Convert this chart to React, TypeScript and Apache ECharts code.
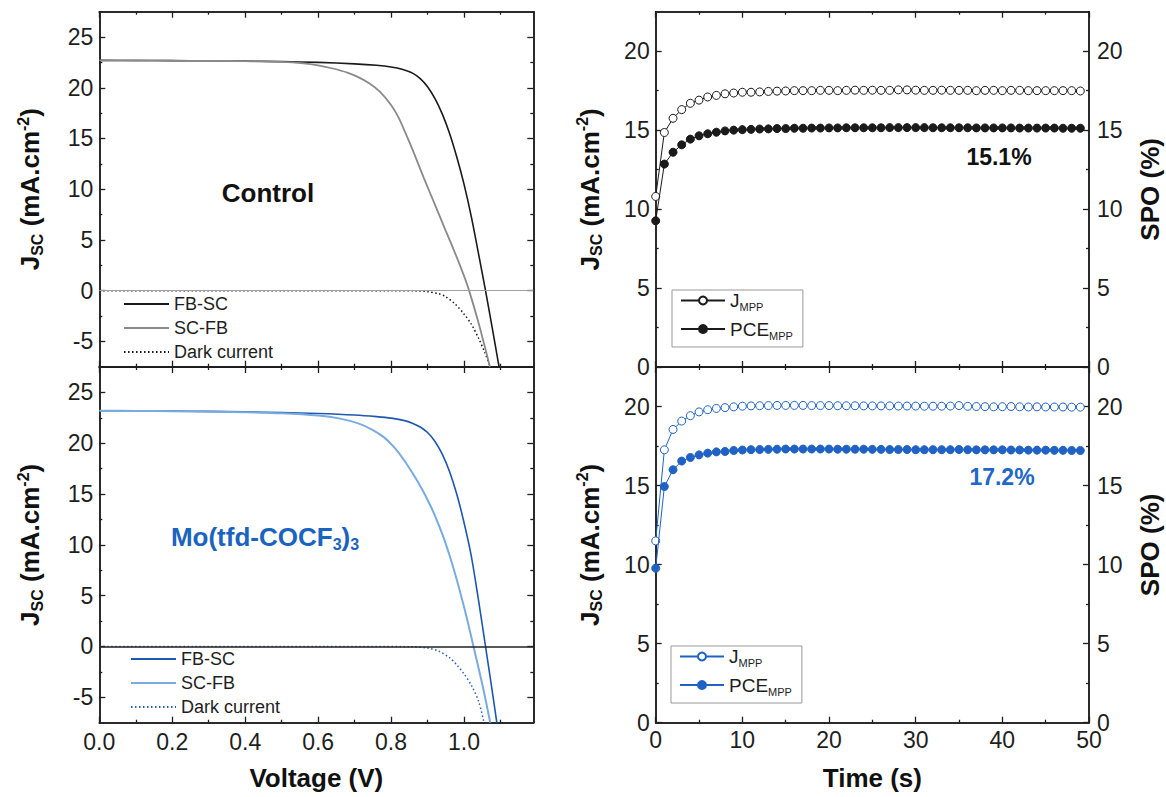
import React, { useEffect, useRef } from "react";
import * as echarts from "echarts";

const FONT = "'Liberation Sans', Arial, Helvetica, sans-serif";
const INK = "#1e1e1e";
const BLUE = "#1f62c4";

// ---------- J-V curves: [voltage (V), current density (mA/cm2)] ----------
const controlFbSc: [number, number][] = [
  [0, 22.7], [0.1, 22.69], [0.2, 22.68], [0.3, 22.66], [0.4, 22.63], [0.5, 22.58],
  [0.6, 22.5], [0.7, 22.36], [0.76, 22.22], [0.8, 22.05], [0.83, 21.82], [0.86, 21.42],
  [0.88, 20.9], [0.9, 20.1], [0.92, 18.95], [0.94, 17.45], [0.96, 15.55], [0.98, 13.2],
  [1.0, 10.5], [1.02, 7.3], [1.04, 3.6], [1.059, 0], [1.078, -3.8], [1.096, -7.5],
];
const controlScFb: [number, number][] = [
  [0, 22.7], [0.1, 22.69], [0.2, 22.67], [0.3, 22.65], [0.4, 22.62], [0.5, 22.55],
  [0.56, 22.4], [0.6, 22.2], [0.64, 21.9], [0.68, 21.5], [0.71, 21.05], [0.74, 20.45],
  [0.77, 19.6], [0.8, 18.3], [0.82, 17.1], [0.84, 15.5], [0.86, 13.8], [0.89, 11.1],
  [0.92, 8.5], [0.95, 5.9], [0.98, 3.3], [1.0, 1.45], [1.014, 0], [1.04, -3.2], [1.071, -7.5],
];
const controlDark: [number, number][] = [
  [0, 0], [0.3, 0], [0.6, 0], [0.8, 0], [0.87, -0.03], [0.9, -0.1], [0.93, -0.3],
  [0.95, -0.6], [0.975, -1.3], [1.0, -2.3], [1.02, -3.3], [1.04, -4.7], [1.057, -6.1],
  [1.072, -7.5],
];
const moFbSc: [number, number][] = [
  [0, 23.2], [0.1, 23.19], [0.2, 23.17], [0.3, 23.13], [0.4, 23.08], [0.5, 23.02],
  [0.6, 22.93], [0.7, 22.78], [0.76, 22.62], [0.8, 22.47], [0.84, 22.2], [0.86, 21.95],
  [0.88, 21.6], [0.9, 21.05], [0.92, 20.2], [0.94, 18.95], [0.96, 17.25], [0.98, 15.0],
  [1.0, 12.2], [1.02, 8.9], [1.04, 4.5], [1.059, 0], [1.075, -3.8], [1.09, -7.5],
];
const moScFb: [number, number][] = [
  [0, 23.2], [0.1, 23.18], [0.2, 23.15], [0.3, 23.1], [0.4, 23.05], [0.5, 22.95],
  [0.6, 22.72], [0.66, 22.42], [0.71, 21.95], [0.75, 21.3], [0.78, 20.6], [0.81, 19.55],
  [0.84, 18.1], [0.875, 16.1], [0.91, 13.7], [0.94, 11.1], [0.96, 9.0], [0.98, 6.6],
  [1.0, 3.9], [1.015, 1.7], [1.026, 0], [1.05, -3.7], [1.072, -7.5],
];
const moDark: [number, number][] = [
  [0, 0], [0.3, 0], [0.6, 0], [0.85, -0.02], [0.9, -0.15], [0.93, -0.45], [0.96, -1.1],
  [0.98, -1.8], [1.0, -2.7], [1.02, -3.8], [1.04, -5.4], [1.055, -7.5],
];

// ---------- MPP tracking ----------
const timeS = [
  0, 1, 2, 3, 4, 5, 6, 7, 8, 9, 10, 11, 12, 13, 14, 15, 16, 17, 18, 19, 20, 21, 22, 23, 24,
  25, 26, 27, 28, 29, 30, 31, 32, 33, 34, 35, 36, 37, 38, 39, 40, 41, 42, 43, 44, 45, 46, 47, 48, 49,
];
const controlJmpp = [
  10.8, 14.85, 15.75, 16.3, 16.7, 16.9, 17.1, 17.2, 17.3, 17.35, 17.4, 17.4, 17.42, 17.45, 17.47,
  17.48, 17.5, 17.5, 17.5, 17.52, 17.52, 17.5, 17.52, 17.53, 17.52, 17.53, 17.52, 17.52, 17.55, 17.55,
  17.53, 17.52, 17.52, 17.53, 17.52, 17.52, 17.52, 17.5, 17.52, 17.52, 17.5, 17.52, 17.52, 17.5, 17.5,
  17.5, 17.5, 17.5, 17.5, 17.48,
];
const controlPce = [
  9.26, 12.85, 13.6, 14.07, 14.43, 14.64, 14.77, 14.87, 14.95, 15.0, 15.03, 15.05, 15.07, 15.08, 15.1,
  15.1, 15.12, 15.12, 15.13, 15.13, 15.14, 15.14, 15.15, 15.15, 15.15, 15.15, 15.15, 15.16, 15.16, 15.16,
  15.16, 15.16, 15.15, 15.15, 15.15, 15.15, 15.15, 15.14, 15.14, 15.14, 15.14, 15.14, 15.13, 15.13, 15.13,
  15.13, 15.13, 15.12, 15.12, 15.12,
];
const moJmpp = [
  11.5, 17.26, 18.55, 19.08, 19.42, 19.66, 19.8, 19.88, 19.93, 19.98, 20.02, 20.04, 20.05, 20.06, 20.07,
  20.07, 20.07, 20.07, 20.06, 20.06, 20.06, 20.05, 20.05, 20.05, 20.04, 20.04, 20.04, 20.04, 20.03, 20.03,
  20.03, 20.02, 20.02, 20.02, 20.03, 20.06, 20.01, 20.0, 19.99, 19.98, 19.99, 20.0, 19.98, 19.97, 19.98,
  19.97, 19.97, 19.97, 19.96, 19.96,
];
const moPce = [
  9.77, 14.94, 16.0, 16.55, 16.78, 16.94, 17.05, 17.13, 17.16, 17.22, 17.25, 17.27, 17.28, 17.29, 17.3,
  17.31, 17.31, 17.31, 17.31, 17.31, 17.31, 17.3, 17.3, 17.3, 17.3, 17.29, 17.29, 17.28, 17.28, 17.28,
  17.27, 17.27, 17.27, 17.27, 17.27, 17.28, 17.27, 17.26, 17.26, 17.26, 17.26, 17.25, 17.25, 17.24, 17.24,
  17.24, 17.23, 17.23, 17.22, 17.22,
];

// ---------- tick values ----------
const voltageMajorTicks = [0, 0.2, 0.4, 0.6, 0.8, 1.0];
const voltageMinorTicks = [0.1, 0.3, 0.5, 0.7, 0.9, 1.1];
const jvMajorTicks = [-5, 0, 5, 10, 15, 20, 25];
const jvMinorTicks = [-2.5, 2.5, 7.5, 12.5, 17.5, 22.5];
const timeMajorTicks = [0, 10, 20, 30, 40, 50];
const timeMinorTicks = [5, 15, 25, 35, 45];
const mppMajorTicks = [0, 5, 10, 15, 20];
const mppMinorTicks = [2.5, 7.5, 12.5, 17.5];

const titleRich = {
  m: { fontSize: 26, fontWeight: "bold", fontFamily: FONT, color: "#111", lineHeight: 30, verticalAlign: "middle" },
  s: { fontSize: 16, fontWeight: "bold", fontFamily: FONT, color: "#111", lineHeight: 18, verticalAlign: "bottom" },
  p: { fontSize: 16, fontWeight: "bold", fontFamily: FONT, color: "#111", lineHeight: 14, verticalAlign: "top" },
};
const J_TITLE = "{m|J}{s|SC}{m| (mA.cm}{p|-2}{m|)}";

type AxisCfg = {
  grid: number;
  min: number;
  max: number;
  ticks: number[];
  position: string;
  len: number;
  labels?: boolean;
  fmt?: (v: number) => string;
  margin?: number;
  labelLineHeight?: number;
  name?: string;
  nameGap?: number;
  rich?: any;
};

function axis(c: AxisCfg) {
  return {
    type: "value",
    gridIndex: c.grid,
    min: c.min,
    max: c.max,
    position: c.position,
    offset: 0,
    splitNumber: 7,
    axisLine: { show: true, onZero: false, lineStyle: { color: INK, width: 1.5 } },
    axisTick: {
      show: true,
      inside: true,
      length: c.len,
      customValues: c.ticks,
      lineStyle: { color: INK, width: 1.3 },
    },
    minorTick: { show: false },
    axisLabel: {
      show: !!c.labels,
      customValues: c.ticks,
      formatter: c.fmt,
      margin: c.margin ?? 6,
      fontSize: 23,
      lineHeight: c.labelLineHeight,
      color: INK,
      fontFamily: FONT,
      showMinLabel: true,
      showMaxLabel: true,
    },
    splitLine: { show: false },
    name: c.name,
    nameLocation: "middle",
    nameGap: c.nameGap,
    nameRotate: c.position === "left" || c.position === "right" ? 90 : 0,
    nameTextStyle: {
      fontSize: 26,
      fontWeight: "bold",
      color: "#111",
      fontFamily: FONT,
      lineHeight: 30,
      rich: c.rich,
    },
  };
}

function buildOption() {
  const grids = [
    { left: 99.3, top: 11.7, width: 434, height: 355 },
    { left: 99.3, top: 367, width: 434, height: 355.7 },
    { left: 655.7, top: 11.7, width: 434.3, height: 355.3 },
    { left: 655.7, top: 367, width: 434.3, height: 355.7 },
  ];
  const xAxes: any[] = [];
  const yAxes: any[] = [];

  // left (J-V) panels
  [0, 1].forEach((g) => {
    const bottom = g === 1;
    xAxes.push(
      axis({
        grid: g, min: 0, max: 1.19, ticks: voltageMajorTicks, position: "bottom", len: 6,
        labels: bottom, fmt: (v: number) => v.toFixed(1), margin: 8,
        name: bottom ? "Voltage (V)" : undefined, nameGap: 40,
      }),
      axis({ grid: g, min: 0, max: 1.19, ticks: voltageMinorTicks, position: "bottom", len: 3 }),
      axis({ grid: g, min: 0, max: 1.19, ticks: voltageMajorTicks, position: "top", len: 6 }),
      axis({ grid: g, min: 0, max: 1.19, ticks: voltageMinorTicks, position: "top", len: 3 }),
    );
    yAxes.push(
      axis({
        grid: g, min: -7.5, max: 27.5, ticks: jvMajorTicks, position: "left", len: 6,
        labels: true, name: J_TITLE, nameGap: 54, rich: titleRich,
      }),
      axis({ grid: g, min: -7.5, max: 27.5, ticks: jvMinorTicks, position: "left", len: 3 }),
      axis({ grid: g, min: -7.5, max: 27.5, ticks: jvMajorTicks, position: "right", len: 6 }),
      axis({ grid: g, min: -7.5, max: 27.5, ticks: jvMinorTicks, position: "right", len: 3 }),
    );
  });
  // right (MPP) panels
  [2, 3].forEach((g) => {
    const bottom = g === 3;
    xAxes.push(
      axis({
        grid: g, min: 0, max: 50, ticks: timeMajorTicks, position: "bottom", len: 6,
        labels: bottom, margin: 9, labelLineHeight: 16,
        name: bottom ? "Time (s)" : undefined, nameGap: 40,
      }),
      axis({ grid: g, min: 0, max: 50, ticks: timeMinorTicks, position: "bottom", len: 3 }),
      axis({ grid: g, min: 0, max: 50, ticks: timeMajorTicks, position: "top", len: 6 }),
      axis({ grid: g, min: 0, max: 50, ticks: timeMinorTicks, position: "top", len: 3 }),
    );
    yAxes.push(
      axis({
        grid: g, min: 0, max: 22.5, ticks: mppMajorTicks, position: "left", len: 6,
        labels: true, labelLineHeight: 16, name: J_TITLE, nameGap: 51, rich: titleRich,
      }),
      axis({ grid: g, min: 0, max: 22.5, ticks: mppMinorTicks, position: "left", len: 3 }),
      axis({
        grid: g, min: 0, max: 22.5, ticks: mppMajorTicks, position: "right", len: 6,
        labels: true, margin: 8, labelLineHeight: 16, name: "SPO (%)", nameGap: 46,
      }),
      axis({ grid: g, min: 0, max: 22.5, ticks: mppMinorTicks, position: "right", len: 3 }),
    );
  });

  const jv = (name: string, g: number, data: [number, number][], color: string, width: number, dotted = false, zero?: any) => ({
    type: "line",
    name,
    xAxisIndex: g * 4,
    yAxisIndex: g * 4,
    data,
    smooth: 0.3,
    symbol: "none",
    showSymbol: false,
    lineStyle: { color, width, type: dotted ? [1.5, 2.5] : "solid" },
    itemStyle: { color },
    emphasis: { disabled: true },
    z: dotted ? 2 : 3,
    markLine: zero
      ? {
          silent: true,
          symbol: ["none", "none"],
          label: { show: false },
          lineStyle: zero,
          emphasis: { disabled: true },
          data: [{ yAxis: 0 }],
        }
      : undefined,
  });

  const mpp = (name: string, g: number, yIdx: number, vals: number[], color: string, filled: boolean) => ({
    type: "line",
    name,
    xAxisIndex: g * 4,
    yAxisIndex: g * 4 + yIdx,
    data: timeS.map((t, i) => [t, vals[i]]),
    symbol: "circle",
    symbolSize: 8,
    showSymbol: true,
    showAllSymbol: true,
    lineStyle: { color, width: 1 },
    itemStyle: { color: filled ? color : "#ffffff", borderColor: color, borderWidth: 1 },
    emphasis: { disabled: true },
    z: filled ? 4 : 3,
  });

  const series = [
    jv("FB-SC#c", 0, controlFbSc, "#1a1a1a", 1.6),
    jv("SC-FB#c", 0, controlScFb, "#8a8a8a", 1.8),
    jv("Dark current#c", 0, controlDark, "#1a1a1a", 1.5, true, { color: "#a0a0a0", width: 1, type: "solid" }),
    jv("FB-SC#m", 1, moFbSc, "#1d57b0", 1.6),
    jv("SC-FB#m", 1, moScFb, "#78abe0", 2),
    jv("Dark current#m", 1, moDark, "#2a5fb5", 1.5, true, { color: "#222", width: 1.5, type: "solid" }),
    mpp("J_MPP#c", 2, 0, controlJmpp, "#1a1a1a", false),
    mpp("PCE_MPP#c", 2, 2, controlPce, "#1a1a1a", true),
    mpp("J_MPP#m", 3, 0, moJmpp, BLUE, false),
    mpp("PCE_MPP#m", 3, 2, moPce, BLUE, true),
  ];

  const jvLegend = (suffix: string, left: number, top: number) => ({
    data: ["FB-SC", "SC-FB", "Dark current"].map((n) => n + suffix),
    formatter: (n: string) => n.split("#")[0],
    orient: "vertical",
    left,
    top,
    itemWidth: 45,
    itemHeight: 12,
    itemGap: 6,
    padding: 0,
    selectedMode: false,
    itemStyle: { opacity: 0, borderWidth: 0 },
    textStyle: { fontSize: 18, lineHeight: 18, color: INK, fontFamily: FONT },
  });

  const legRich = {
    m: { fontSize: 19, lineHeight: 24, fontFamily: FONT, color: INK, verticalAlign: "middle" },
    s: { fontSize: 11, lineHeight: 4, fontFamily: FONT, color: INK, verticalAlign: "bottom" },
  };
  const mppLegend = (suffix: string, left: number, top: number) => ({
    data: ["J_MPP", "PCE_MPP"].map((n) => n + suffix),
    formatter: (n: string) => (n.startsWith("J") ? "{m|J}{s|MPP}" : "{m|PCE}{s|MPP}"),
    orient: "vertical",
    left,
    top,
    itemWidth: 44,
    itemHeight: 10,
    itemGap: 7,
    padding: [1, 10, 6, 8],
    borderColor: "#999",
    borderWidth: 1,
    selectedMode: false,
    textStyle: { fontSize: 19, color: INK, fontFamily: FONT, rich: legRich },
  });

  return {
    animation: false,
    backgroundColor: "#ffffff",
    grid: grids,
    xAxis: xAxes,
    yAxis: yAxes,
    legend: [
      jvLegend("#c", 123, 295),
      jvLegend("#m", 130, 650),
      mppLegend("#c", 672, 290),
      mppLegend("#m", 671, 646),
    ],
    series,
    graphic: [
      {
        type: "text",
        x: 268,
        y: 193,
        style: {
          text: "Control",
          align: "center",
          verticalAlign: "middle",
          fontSize: 26,
          fontWeight: "bold",
          fontFamily: FONT,
          fill: "#111",
        },
      },
      {
        type: "text",
        x: 265,
        y: 537,
        style: {
          text: "{a|Mo(tfd-COCF}{b|3}{a|)}{b|3}",
          align: "center",
          verticalAlign: "middle",
          rich: {
            a: { fontSize: 26, fontWeight: "bold", fontFamily: FONT, fill: "#1a64c0", lineHeight: 30, verticalAlign: "middle" },
            b: { fontSize: 16, fontWeight: "bold", fontFamily: FONT, fill: "#1a64c0", lineHeight: 7, verticalAlign: "bottom" },
          },
        },
      },
      {
        type: "text",
        x: 999,
        y: 157,
        style: {
          text: "15.1%",
          align: "center",
          verticalAlign: "middle",
          fontSize: 23,
          fontWeight: "bold",
          fontFamily: FONT,
          fill: "#111",
        },
      },
      {
        type: "text",
        x: 1002,
        y: 477,
        style: {
          text: "17.2%",
          align: "center",
          verticalAlign: "middle",
          fontSize: 23,
          fontWeight: "bold",
          fontFamily: FONT,
          fill: "#2068c8",
        },
      },
    ],
  };
}

export default function App() {
  const ref = useRef<HTMLDivElement>(null);
  useEffect(() => {
    document.body.style.margin = "0";
    const chart = echarts.init(ref.current!, undefined, { renderer: "svg" });
    chart.setOption(buildOption() as any);
    return () => chart.dispose();
  }, []);
  return <div ref={ref} style={{ width: 1166, height: 797 }} />;
}
